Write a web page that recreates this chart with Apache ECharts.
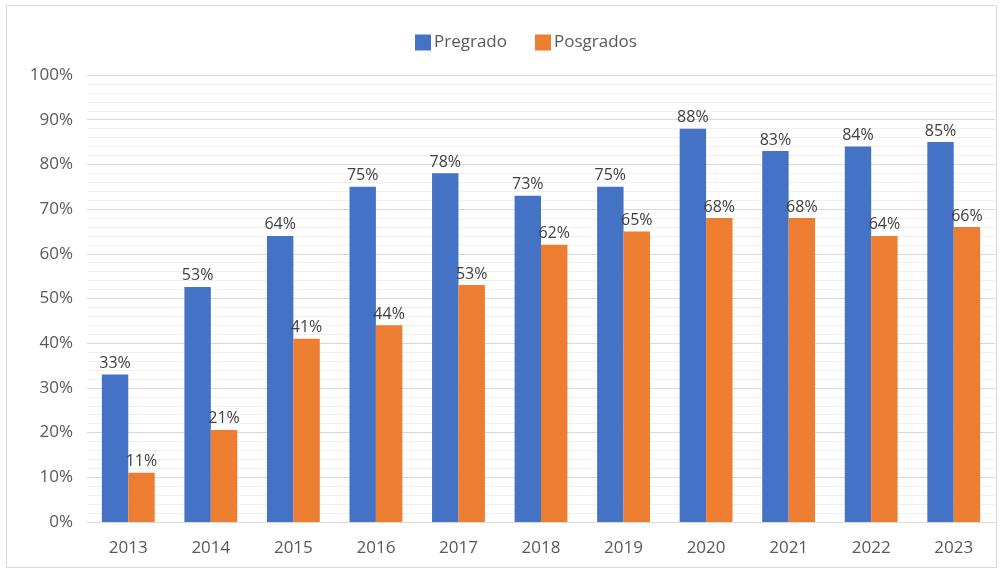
<!DOCTYPE html>
<html><head><meta charset="utf-8">
<script src="https://cdn.jsdelivr.net/npm/echarts@6/dist/echarts.min.js"></script>
<style>html,body{margin:0;padding:0;background:#fff}#c{width:1003px;height:573px}</style>
</head><body><div id="c"></div>
<script>
const categories = ['2013','2014','2015','2016','2017','2018','2019','2020','2021','2022','2023'];
const pregrado = [33, 52.6, 64, 75, 78, 73, 75, 88, 83, 84, 85];
const posgrados = [11, 20.6, 41, 44, 53, 62, 65, 68, 68, 64, 66];
const seriesNames = ['Pregrado', 'Posgrados'];

const chart = echarts.init(document.getElementById('c'));
const font = "'Open Sans', 'Noto Sans', sans-serif";
const lbl = {show:true, position:'top', distance:3, color:'#404040', fontSize:16, fontFamily:font,
  formatter: p => Math.round(p.value) + '%'};
chart.setOption({
  animation:false,
  graphic:[{type:'rect', shape:{x:6.5,y:5.5,width:990,height:562}, style:{fill:'none', stroke:'#d9d9d9', lineWidth:1}, silent:true}],
  legend:{top:29, left:410, itemWidth:16, itemHeight:16, itemGap:28, icon:'rect',
    textStyle:{color:'#595959', fontSize:17, fontFamily:font, padding:[0,0,0,-2]}},
  grid:{left:87, right:8, top:75, bottom:51},
  xAxis:{type:'category', data:categories,
    axisLine:{lineStyle:{color:'#d9d9d9'}}, axisTick:{show:false},
    axisLabel:{color:'#595959', fontSize:17, fontFamily:font, margin:18}},
  yAxis:{type:'value', min:0, max:100, interval:10,
    axisLabel:{formatter:'{value}%', color:'#595959', fontSize:17, fontFamily:font, margin:14},
    splitLine:{lineStyle:{color:'#d9d9d9'}},
    minorTick:{show:false, splitNumber:5},
    minorSplitLine:{show:true, lineStyle:{color:'#f0f0f0'}}},
  series:[
    {name:seriesNames[0], type:'bar', data:pregrado, barGap:'0%', barCategoryGap:'36%', itemStyle:{color:'#4472C4'}, label:lbl},
    {name:seriesNames[1], type:'bar', data:posgrados, itemStyle:{color:'#ED7D31'}, label:lbl}
  ]
});
</script></body></html>
